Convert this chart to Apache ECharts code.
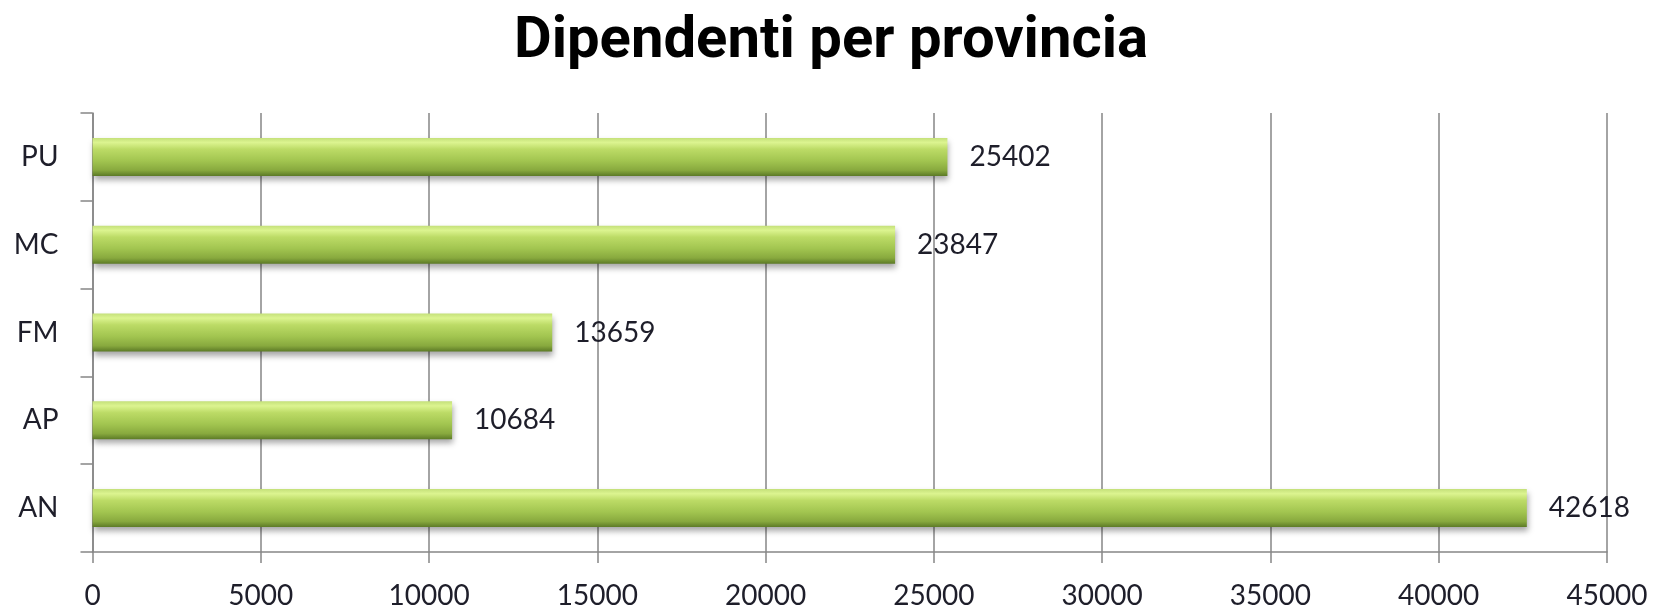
<!DOCTYPE html>
<html>
<head>
<meta charset="utf-8">
<script src="https://cdn.jsdelivr.net/npm/echarts@6/dist/echarts.min.js"></script>
<style>
html,body{margin:0;padding:0;background:#fff;}
#chart{width:1662px;height:613px;}
</style>
</head>
<body>
<div id="chart"></div>
<script>
const titleText = 'Dipendenti per provincia';
const categories = ['AN', 'AP', 'FM', 'MC', 'PU'];
const values = [42618, 10684, 13659, 23847, 25402];
const xMin = 0, xMax = 45000, xStep = 5000;

const chart = echarts.init(document.getElementById('chart'));
const labelFont = 'Lato, "Open Sans", sans-serif';
chart.setOption({
  animation: false,
  backgroundColor: '#ffffff',
  title: {
    text: titleText,
    left: 'center',
    top: 8,
    textStyle: {
      fontFamily: '"Liberation Sans Narrow", Roboto, sans-serif',
      fontWeight: 'bold',
      fontSize: 58,
      color: '#000'
    }
  },
  grid: { left: 92.5, right: 55, top: 113, bottom: 61, containLabel: false },
  xAxis: {
    type: 'value',
    min: xMin, max: xMax, interval: xStep,
    axisLine: { show: true, lineStyle: { color: '#868686', width: 1.5 } },
    axisTick: { show: true, length: 11, lineStyle: { color: '#868686', width: 1.5 } },
    splitLine: { show: true, lineStyle: { color: '#868686', width: 1.5 } },
    axisLabel: { margin: 30, fontFamily: labelFont, fontSize: 28, color: '#1e1e2a',
      formatter: function (v) { return String(v); } }
  },
  yAxis: {
    type: 'category',
    data: categories,
    axisLine: { show: true, lineStyle: { color: '#868686', width: 1.5 } },
    axisTick: { show: true, length: 12, alignWithLabel: false, lineStyle: { color: '#868686', width: 1.5 } },
    axisLabel: { margin: 34, fontFamily: labelFont, fontSize: 28, color: '#1e1e2a' }
  },
  series: [{
    type: 'bar',
    data: values,
    barWidth: 38,
    itemStyle: {
      color: new echarts.graphic.LinearGradient(0, 0, 0, 1, [
        { offset: 0, color: '#c4e07a' },
        { offset: 0.12, color: '#dcf490' },
        { offset: 0.3, color: '#bcdb66' },
        { offset: 0.6, color: '#a2c550' },
        { offset: 0.85, color: '#88a93e' },
        { offset: 1, color: '#5c7a26' }
      ]),
      shadowBlur: 6,
      shadowColor: 'rgba(0,0,0,0.35)',
      shadowOffsetY: 4,
      shadowOffsetX: 1
    },
    label: {
      show: true,
      position: 'right',
      distance: 22,
      fontFamily: labelFont,
      fontSize: 28,
      color: '#1e1e2a'
    }
  }]
});
</script>
</body>
</html>
